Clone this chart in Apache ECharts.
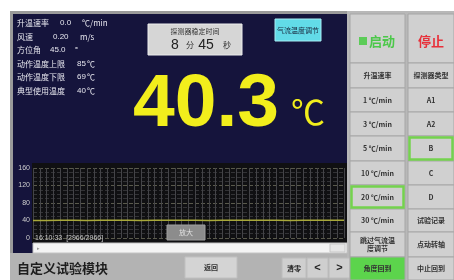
<!DOCTYPE html>
<html>
<head>
<meta charset="utf-8">
<script src="https://cdn.jsdelivr.net/npm/echarts@6/dist/echarts.min.js"></script>
<style>
html, body { margin: 0; padding: 0; background: #fff; }
#main { width: 454px; height: 280px; }
</style>
</head>
<body>
<div id="main"></div>
<script>
// 曲线数据 (采样序号 / 温度)
var sampleIdx = [0, 2, 4, 6, 8, 10, 12, 14, 16, 18, 20, 22, 24, 26, 28, 30, 32, 34, 36, 38, 40, 42, 44, 46];
var tempValues = [40.2, 40.2, 40.3, 40.3, 40.2, 40.3, 40.3, 40.3, 40.2, 40.3, 40.3, 40.3, 40.3, 40.2, 40.3, 40.3, 40.3, 40.3, 40.3, 40.2, 40.3, 40.3, 40.3, 40.3];
var yTicks = [0, 40, 80, 120, 160];

// 左上参数
var statNames = ['升温速率', '风速', '方位角', '动作温度上限', '动作温度下限', '典型使用温度'];
var statValues = ['0.0', '0.20', '45.0', '85', '69', '40'];
var statUnits = ['℃/min', 'm/s', '°', '℃', '℃', '℃'];

// 右侧按钮
var rateLabels = ['升温速率', '1 ℃/min', '3 ℃/min', '5 ℃/min', '10 ℃/min', '20 ℃/min', '30 ℃/min', '跳过气流温\n度调节', '角度回到'];
var typeLabels = ['探测器类型', 'A1', 'A2', 'B', 'C', 'D', '试验记录', '点动转轴', '中止回到'];

var curTemp = '40.3';
var stableMin = '8', stableSec = '45';
var timeStamp = '16:10:33  [2966/2966]';

var CN = '"Noto Sans CJK SC", sans-serif';
var AR = '"Liberation Sans", Arial, sans-serif';

function rect(x, y, w, h, fill, stroke, lw, z) {
	return { type: 'rect', z: z || 1, shape: { x: x, y: y, width: w, height: h },
		style: { fill: fill, stroke: stroke || null, lineWidth: lw || 0 } };
}
function txt(x, y, s, size, color, align, weight, family, z) {
	return { type: 'text', z: z || 60, x: x, y: y,
		style: { text: s, fontSize: size, fill: color, align: align || 'left', verticalAlign: 'middle',
			fontWeight: weight || 'normal', fontFamily: family || CN, lineHeight: size + 1 } };
}

var els = [];
// 背景面板
els.push(rect(10, 11, 338, 244, '#9a9a9a', null, 0, -20));
els.push(rect(13, 14, 334, 239, '#15143c', null, 0, -19));
els.push(rect(32, 163, 315, 80, '#101012', null, 0, -18));
els.push(rect(10, 253, 338, 27, '#b3b3b3', null, 0, -19));
els.push(rect(347, 11, 107, 269, '#b8b8b8', null, 0, -19));

// 左上参数
var statY = [23, 36.5, 50, 63.5, 77, 90.5];
var valX = [60, 53, 50, 77, 77, 77];
var unitX = [82, 80, 75, 87, 87, 87];
for (var i = 0; i < statNames.length; i++) {
	els.push(txt(17, statY[i], statNames[i], 8, '#e6e6ee'));
	els.push(txt(valX[i], statY[i], statValues[i], 8, '#e6e6ee', 'left', 'normal', AR));
	els.push(txt(unitX[i], statY[i], statUnits[i], 8, '#e6e6ee'));
}

// 稳定时间框
els.push(rect(148, 24, 94, 31, '#d6d6d6', '#ededed', 1, 5));
els.push(txt(195, 31, '探测器稳定时间', 7, '#333', 'center'));
els.push(txt(175, 45, stableMin, 14, '#222', 'center', 'normal', AR));
els.push(txt(190, 45, '分', 8, '#333', 'center'));
els.push(txt(206, 45, stableSec, 14, '#222', 'center', 'normal', AR));
els.push(txt(227, 45, '秒', 8, '#333', 'center'));

// 气流温度调节
els.push(rect(275, 19, 46, 22, '#62dbe8', '#a8eef4', 1, 5));
els.push(txt(298, 30, '气流温度调节', 7, '#1a2a40', 'center'));

// 当前温度
els.push(txt(133, 105, curTemp, 75, '#f2ee1c', 'left', 'bold', AR));
els.push(txt(291, 112, '℃', 34, '#f2ee1c', 'left', 'normal', CN));

// 曲线叠加元素
els.push(txt(35, 238, timeStamp, 7, '#c8c8c8', 'left', 'normal', AR));
els.push(rect(167, 225, 38, 15, '#8c8c8c', '#a0a0a0', 1, 55));
els.push(txt(186, 232, '放大', 7, '#e0e0e0', 'center'));

// 滚动条
els.push(rect(33, 243, 314, 10, '#f4f4f4', '#c4c4c4', 1, 5));
els.push(txt(38, 248, '▸', 5, '#999', 'center'));
els.push(rect(330, 244, 15, 8, '#e6e6e6', '#c8c8c8', 1, 6));

// 底部栏
els.push(txt(17, 268, '自定义试验模块', 13, '#1e1e1e', 'left', 'bold'));
els.push(rect(185, 257, 52, 21, '#d4d4d4', '#c0c0c0', 1, 5));
els.push(txt(211, 267, '返回', 7, '#333', 'center', 'bold'));
var smallBtnX = [282, 307, 329];
var smallBtnTxt = ['清零', '<', '>'];
for (i = 0; i < 3; i++) {
	els.push(rect(smallBtnX[i], 258, i === 0 ? 24 : 21, 20, '#cfcfcf', '#bcbcbc', 1, 5));
	els.push(txt(smallBtnX[i] + (i === 0 ? 12 : 10.5), 268, smallBtnTxt[i], i === 0 ? 7 : 11, '#222', 'center', 'bold', i === 0 ? CN : AR));
}

// 右侧按钮
var colX = [350, 408], colW = [55, 46];
els.push(rect(350, 14, 55, 49, '#d0d0d0', '#a6a6a6', 1, 5));
els.push(rect(408, 14, 46, 49, '#d0d0d0', '#a6a6a6', 1, 5));
els.push(rect(359, 37, 8, 8, '#5ccc58', null, 0, 6));
els.push(txt(369, 41, '启动', 13, '#4cc84a', 'left', 'bold'));
els.push(txt(431, 41, '停止', 13, '#e8303a', 'center', 'bold'));
var rowEdges = [63, 88, 112, 136, 161, 185, 209, 232, 257, 280];
for (i = 0; i < rateLabels.length; i++) {
	var y0 = rowEdges[i], h = rowEdges[i + 1] - y0;
	var leftFill = i === 8 ? '#5cd44c' : '#d0d0d0';
	els.push(rect(colX[0], y0, colW[0], h, leftFill, '#a6a6a6', 1, 5));
	els.push(rect(colX[1], y0, colW[1], h, '#d0d0d0', '#a6a6a6', 1, 5));
	if (i === 5) els.push(rect(colX[0] + 1.5, y0 + 1.5, colW[0] - 3, h - 3, 'none', '#74d24e', 2.5, 7));
	if (i === 3) els.push(rect(colX[1] + 1.5, y0 + 1.5, colW[1] - 3, h - 3, 'none', '#74d24e', 2.5, 7));
	els.push(txt(colX[0] + colW[0] / 2, y0 + h / 2, rateLabels[i], 7, '#333', 'center', 'bold'));
	els.push(txt(colX[1] + colW[1] / 2, y0 + h / 2, typeLabels[i], 7, '#333', 'center', 'bold'));
}

var chart = echarts.init(document.getElementById('main'));
var option = {
	backgroundColor: '#ffffff',
	animation: false,
	grid: { left: 33, right: 110, top: 168, height: 70 },
	xAxis: {
		type: 'value', min: 0, max: 46, interval: 1,
		axisLine: { show: false }, axisTick: { show: false }, axisLabel: { show: false },
		splitLine: { show: true, lineStyle: { color: '#444448', width: 1 } }
	},
	yAxis: {
		type: 'value', min: yTicks[0], max: yTicks[yTicks.length - 1], interval: 40,
		axisLine: { show: false }, axisTick: { show: false },
		axisLabel: { color: '#cfcfcf', fontSize: 7, margin: 3, fontFamily: AR },
		splitLine: { show: true, lineStyle: { color: '#5a5a4c', type: 'dashed' } },
		minorTick: { show: false, splitNumber: 4 },
		minorSplitLine: { show: true, lineStyle: { color: '#333336', type: 'dashed' } }
	},
	series: [{
		type: 'line',
		symbol: 'none',
		data: sampleIdx.map(function (x, k) { return [x, tempValues[k]]; }),
		lineStyle: { color: '#a8a83a', width: 1.5 }
	}],
	graphic: { elements: els }
};
chart.setOption(option);
</script>
</body>
</html>
